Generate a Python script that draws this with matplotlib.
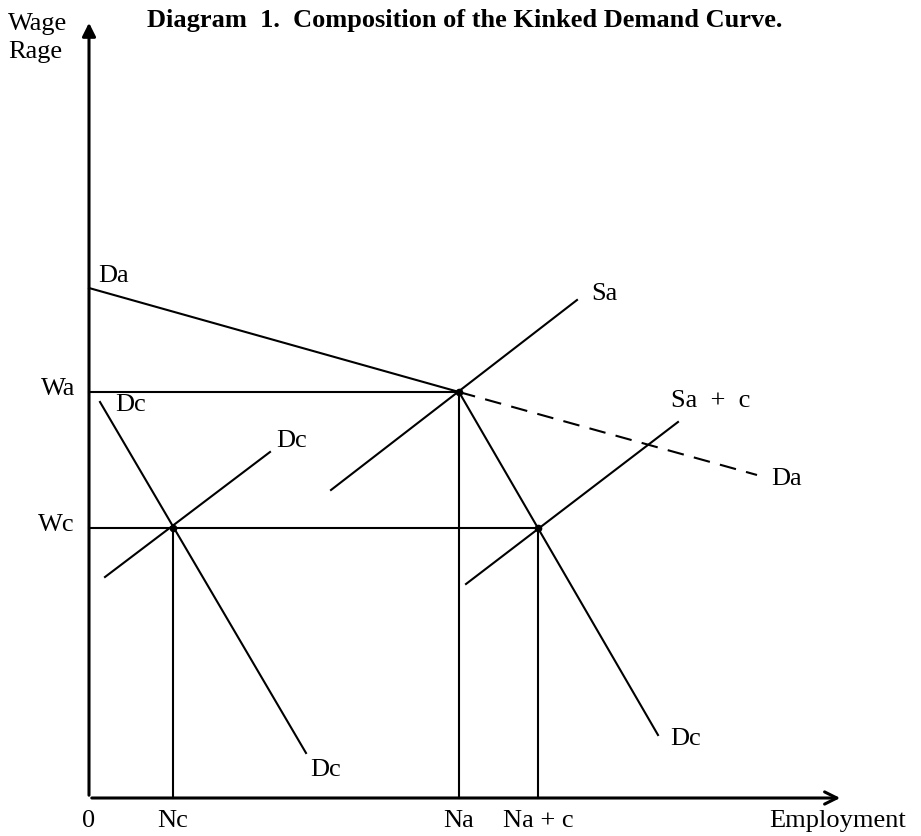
import numpy as np
from matplotlib import pyplot as plt

plt.rcParams['font.family'] = ['Liberation Serif', 'DejaVu Serif']

# equilibrium values (diagram units, origin at 0)
Nc, Na, Nac = 84, 370, 449
Wc, Wa = 270, 406

# demand curve Da: intercept -> kink -> dashed continuation
da_x = [0, Na]
da_y = [510, Wa]
da_dash_x = [Na, 668]
da_dash_y = [Wa, 323]

# steep demand through the kink (Dc, right)
dc_right_x = [Na, 569]
dc_right_y = [Wa, 63]
# steep demand on the left (Dc)
dc_left_x = [11, 217]
dc_left_y = [396, 45]
# small supply line through Nc (labelled Dc)
sc_x = [16, 181]
sc_y = [221, 346]
# supply curves
sa_x = [242, 488]
sa_y = [308, 498]
sac_x = [377, 589]
sac_y = [214, 376]

x_ticks = [0, Nc, Na, Nac]
x_tick_labels = ['0', 'Nc', 'Na', 'Na + c']
y_ticks = [Wa, Wc]
y_tick_labels = ['Wa', 'Wc']

fig = plt.figure(figsize=(9.21, 8.36), dpi=100)
ax = fig.add_axes([0, 0, 1, 1])
ax.set_xlim(-89, 832)
ax.set_ylim(-38, 798)
ax.axis('off')

lw = 1.5
# axes with arrows
ax.annotate('', xy=(0, 778), xytext=(0, 0),
            arrowprops=dict(arrowstyle='-|>', lw=2.2, color='k', mutation_scale=20))
ax.annotate('', xy=(754, 0), xytext=(0, 0),
            arrowprops=dict(arrowstyle='->', lw=2.2, color='k', mutation_scale=22))

# guide lines
ax.plot([0, Na], [Wa, Wa], 'k', lw=lw)
ax.plot([0, Nac], [Wc, Wc], 'k', lw=lw)
ax.plot([Nc, Nc], [0, Wc], 'k', lw=lw)
ax.plot([Na, Na], [0, Wa], 'k', lw=lw)
ax.plot([Nac, Nac], [0, Wc], 'k', lw=lw)

# curves
ax.plot(da_x, da_y, 'k', lw=lw)
ax.plot(da_dash_x, da_dash_y, 'k', lw=lw, dashes=(8, 5))
ax.plot(dc_right_x, dc_right_y, 'k', lw=lw)
ax.plot(dc_left_x, dc_left_y, 'k', lw=lw)
ax.plot(sc_x, sc_y, 'k', lw=lw)
ax.plot(sa_x, sa_y, 'k', lw=lw)
ax.plot(sac_x, sac_y, 'k', lw=lw)
ax.plot([Nc, Na, Nac], [Wc, Wa, Wc], 'ko', ms=4.5)

fs = 19
for x, lab in zip(x_ticks, x_tick_labels):
    ax.text(x, -23, lab, ha='center', va='center', fontsize=fs)
ax.text(749, -23, 'Employment', ha='center', va='center', fontsize=fs)
for y, lab in zip(y_ticks, y_tick_labels):
    ax.text(-14, y + 3, lab, ha='right', va='center', fontsize=fs)
ax.text(-81, 774, 'Wage', ha='left', va='center', fontsize=fs)
ax.text(-81, 746, 'Rage', ha='left', va='center', fontsize=fs)

ax.text(58, 777, 'Diagram  1.  Composition of the Kinked Demand Curve.',
        ha='left', va='center', fontsize=19, fontweight='bold')

curve_labels = [
    (25, 522, 'Da'), (42, 393, 'Dc'), (203, 357, 'Dc'), (515, 504, 'Sa'),
    (622, 397, 'Sa  +  c'), (698, 319, 'Da'), (597, 59, 'Dc'), (237, 28, 'Dc'),
]
for x, y, lab in curve_labels:
    ax.text(x, y, lab, ha='center', va='center', fontsize=fs)

fig.savefig('out.png', dpi=100)
